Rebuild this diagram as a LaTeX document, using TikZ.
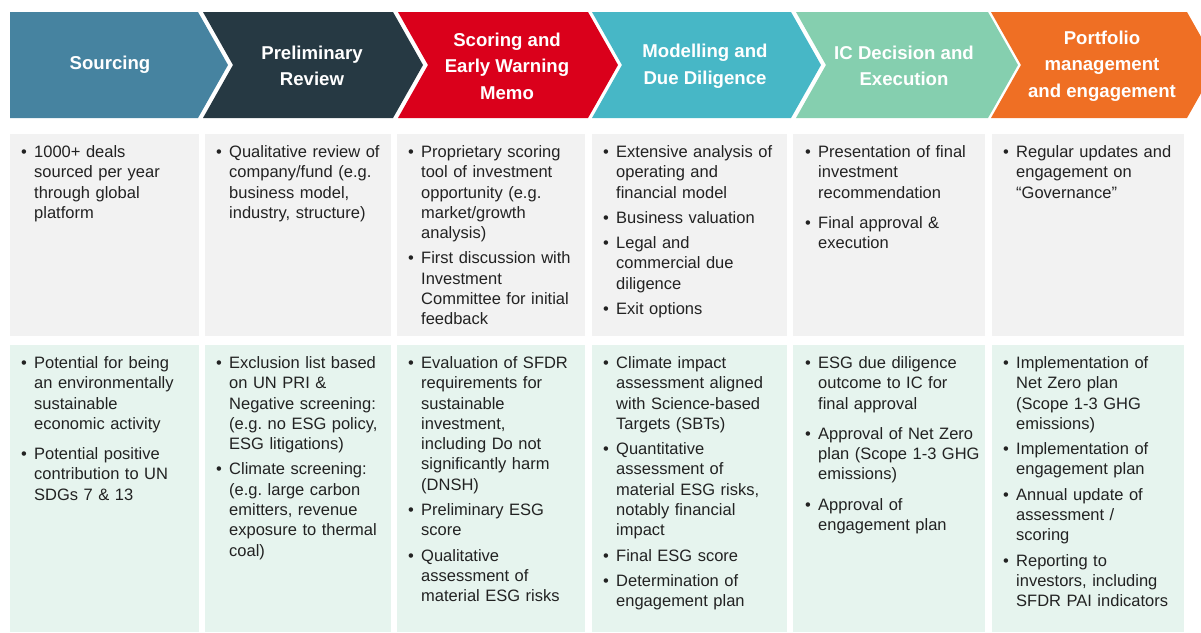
\documentclass[tikz,border=0pt]{standalone}
\usepackage{fontspec}
\setmainfont{Liberation Sans}
\usetikzlibrary{calc}
\frenchspacing

\definecolor{cSource}{HTML}{4683A0}
\definecolor{cPrelim}{HTML}{263943}
\definecolor{cScore}{HTML}{DA001B}
\definecolor{cModel}{HTML}{47B7C6}
\definecolor{cDecide}{HTML}{85CFAF}
\definecolor{cPort}{HTML}{EF6F24}
\definecolor{cGrey}{HTML}{F2F2F2}
\definecolor{cMint}{HTML}{E6F4EE}
\definecolor{cText}{HTML}{222222}

% bullet item with hanging indent; optional argument = space above it
\newcommand{\itm}[2][0pt]{\ifdim#1>0pt\vspace{#1}\fi
  \hangindent=13pt\hangafter=1\noindent\strut\makebox[13pt][l]{\textbullet}#2\strut\par}

\tikzset{
  head/.style={text=white, align=center, inner sep=0pt,
    font=\fontsize{18.6}{26.5}\selectfont\bfseries},
  cell/.style={anchor=north west, inner sep=0pt, text width=178pt, align=left,
    text=cText, font=\fontsize{16.5}{20.3}\selectfont\frenchspacing},
}

% one chevron: left x, right x (top corners), fill colour
\newcommand{\chev}[3]{\fill[#3] (#1,12) -- (#2,12) -- (#2+30,65) -- (#2,118) -- (#1,118) -- (#1+30,65) -- cycle;}

\begin{document}
\begin{tikzpicture}[x=1pt,y=-1pt]
\useasboundingbox (0,0) rectangle (1201,632);
\clip (0,0) rectangle (1201,632);

% process chevrons
\fill[cSource] (10,12) -- (198,12) -- (228,65) -- (198,118) -- (10,118) -- cycle;
\chev{203}{393}{cPrelim}
\chev{398}{588}{cScore}
\chev{592}{791}{cModel}
\chev{796}{988}{cDecide}
\chev{991}{1187}{cPort}

\node[head] (h1) at (110,65) {Sourcing};
\node[head] (h2) at (312,66) {Preliminary\\Review};
\node[head] (h3) at (507,66) {Scoring and\\Early Warning\\Memo};
\node[head] (h4) at (705,66) {Modelling and\\Due Diligence};
\node[head] (h5) at (904,66) {IC Decision and\\Execution};
\node[head] (h6) at (1102,66) {Portfolio\\management\\and engagement};

% background panels
\foreach \l/\r in {10/199, 205/391, 397/585, 592/787, 793/985, 992/1184}{
  \fill[cGrey] (\l,134) rectangle (\r,336);
  \fill[cMint] (\l,345) rectangle (\r,632);
}

% first row: deal process
\node[cell] (a1) at (21,143) {%
  \itm{1000+ deals\newline sourced per year\newline through global\newline platform}};
\node[cell] (a2) at (216,143) {%
  \itm{Qualitative review of\newline company/fund (e.g.\newline business model,\newline industry, structure)}};
\node[cell] (a3) at (408,143) {%
  \itm{Proprietary scoring\newline tool of investment\newline opportunity (e.g.\newline market/growth\newline analysis)}%
  \itm[5pt]{First discussion with\newline Investment\newline Committee for initial\newline feedback}};
\node[cell] (a4) at (603,143) {%
  \itm{Extensive analysis of\newline operating and\newline financial model}%
  \itm[5pt]{Business valuation}%
  \itm[5pt]{Legal and\newline commercial due\newline diligence}%
  \itm[5pt]{Exit options}};
\node[cell] (a5) at (805,143) {%
  \itm{Presentation of final\newline investment\newline recommendation}%
  \itm[10pt]{Final approval \&\newline execution}};
\node[cell] (a6) at (1003,143) {%
  \itm{Regular updates and\newline engagement on\newline “Governance”}};

% second row: ESG integration
\node[cell] (b1) at (21,354) {%
  \itm{Potential for being\newline an environmentally\newline sustainable\newline economic activity}%
  \itm[10pt]{Potential positive\newline contribution to UN\newline SDGs 7 \& 13}};
\node[cell] (b2) at (216,354) {%
  \itm{Exclusion list based\newline on UN PRI \&\newline Negative screening:\newline (e.g. no ESG policy,\newline ESG litigations)}%
  \itm[5pt]{Climate screening:\newline (e.g. large carbon\newline emitters, revenue\newline exposure to thermal\newline coal)}};
\node[cell] (b3) at (408,354) {%
  \itm{Evaluation of SFDR\newline requirements for\newline sustainable\newline investment,\newline including Do not\newline significantly harm\newline (DNSH)}%
  \itm[5pt]{Preliminary ESG\newline score}%
  \itm[5pt]{Qualitative\newline assessment of\newline material ESG risks}};
\node[cell] (b4) at (603,354) {%
  \itm{Climate impact\newline assessment aligned\newline with Science-based\newline Targets (SBTs)}%
  \itm[5pt]{Quantitative\newline assessment of\newline material ESG risks,\newline notably financial\newline impact}%
  \itm[5pt]{Final ESG score}%
  \itm[5pt]{Determination of\newline engagement plan}};
\node[cell] (b5) at (805,354) {%
  \itm{ESG due diligence\newline outcome to IC for\newline final approval}%
  \itm[10pt]{Approval of Net Zero\newline plan (Scope 1-3 GHG\newline emissions)}%
  \itm[10pt]{Approval of\newline engagement plan}};
\node[cell] (b6) at (1003,354) {%
  \itm{Implementation of\newline Net Zero plan\newline (Scope 1-3 GHG\newline emissions)}%
  \itm[5pt]{Implementation of\newline engagement plan}%
  \itm[5pt]{Annual update of\newline assessment /\newline scoring}%
  \itm[5pt]{Reporting to\newline investors, including\newline SFDR PAI indicators}};
\end{tikzpicture}
\end{document}
